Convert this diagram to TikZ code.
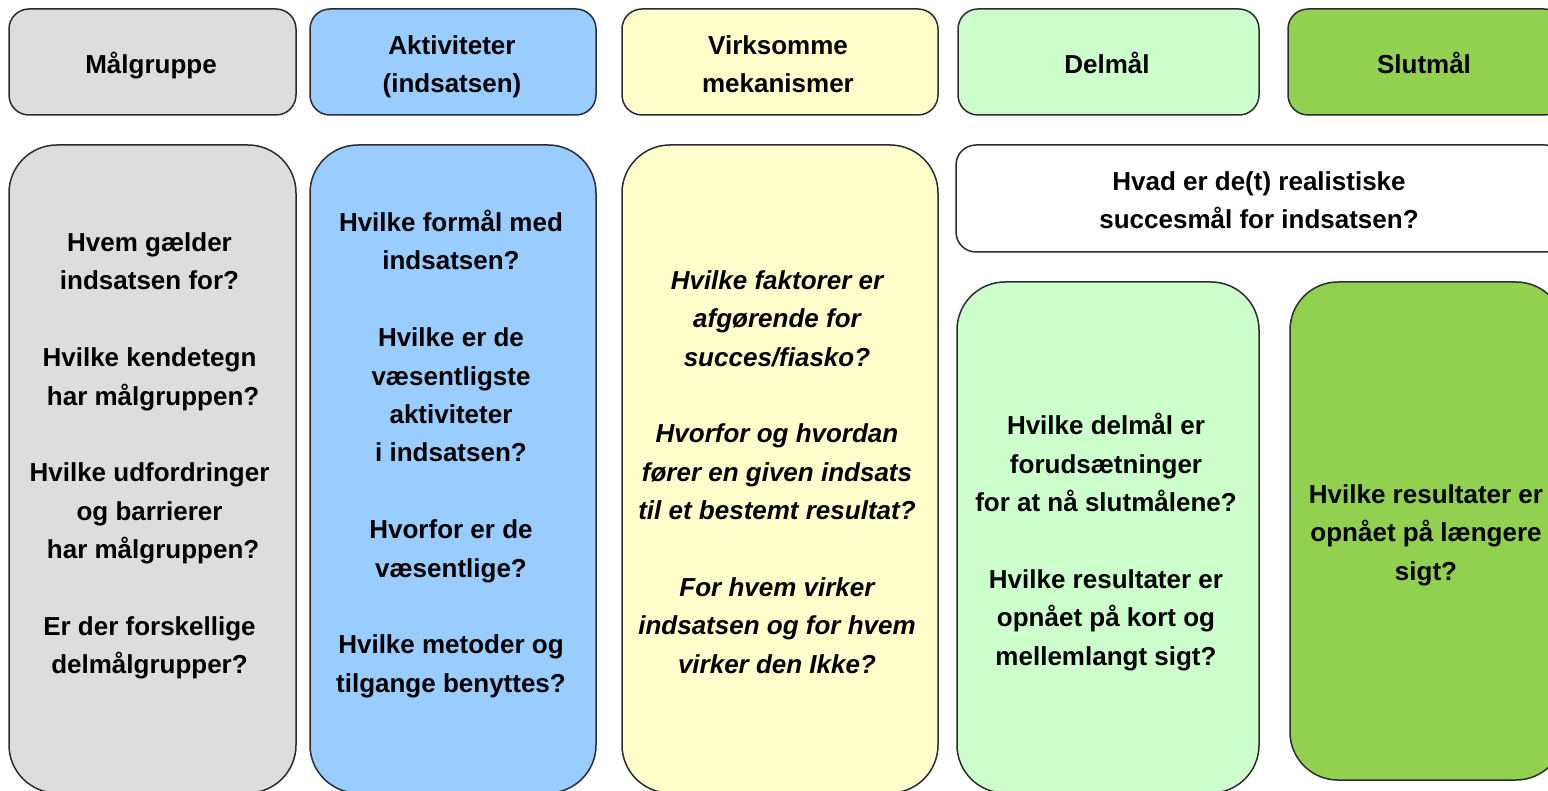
\documentclass[tikz,border=0pt]{standalone}
\usepackage{fontspec}
\setmainfont{Liberation Sans}
\definecolor{cgray}{HTML}{DDDDDD}
\definecolor{cblue}{HTML}{99CCFF}
\definecolor{cyellow}{HTML}{FFFFCC}
\definecolor{clgreen}{HTML}{CCFFCC}
\definecolor{cgreen}{HTML}{92D050}
\definecolor{cedge}{HTML}{2B2B33}
\begin{document}
\begin{tikzpicture}[x=1pt,y=-1pt,
  headbox/.style={draw=cedge,line width=1.5pt,rounded corners=20pt},
  bodybox/.style={draw=cedge,line width=1.5pt,rounded corners=48pt},
  txt/.style={font=\fontsize{26}{38.4}\selectfont\bfseries,align=center,inner sep=0pt},
  itxt/.style={txt,font=\fontsize{26}{38.4}\selectfont\bfseries\itshape}]
\useasboundingbox (0,0) rectangle (1548,791);
\clip (0,0) rectangle (1548,791);
% header row
\draw[headbox,fill=cgray]   (9,9) rectangle (296,115);
\draw[headbox,fill=cblue]   (310,9) rectangle (596,115);
\draw[headbox,fill=cyellow] (622,9) rectangle (938,115);
\draw[headbox,fill=clgreen] (958,9) rectangle (1259,115);
\draw[headbox,fill=cgreen]  (1288,9) rectangle (1564,115);
\node[txt] (h1) at (151,66) {Målgruppe};
\node[txt] (h2) at (452,67) {Aktiviteter\\(indsatsen)};
\node[txt] (h3) at (778,64) {Virksomme\\mekanismer};
\node[txt] (h4) at (1107,63) {Delmål};
\node[txt] (h5) at (1424,63) {Slutmål};
% body boxes
\draw[bodybox,fill=cgray]   (9,145) rectangle (296,793);
\draw[bodybox,fill=cblue]   (310,145) rectangle (596,793);
\draw[bodybox,fill=cyellow] (622,145) rectangle (938,793);
\draw[headbox,fill=white]   (956,145) rectangle (1565,252);
\draw[bodybox,fill=clgreen] (957,282) rectangle (1259,793);
\draw[bodybox,fill=cgreen]  (1290,282) rectangle (1564,780);
% body texts
\node[txt] (b1) at (149.5,456) {Hvem gælder\\indsatsen for?\\[38.4pt]Hvilke kendetegn\\\ har målgruppen?\\[38.4pt]Hvilke udfordringer\\og barrierer\\\ har målgruppen?\\[38.4pt]Er der forskellige\\delmålgrupper?};
\node[txt] (b2) at (451,454) {Hvilke formål med\\indsatsen?\\[38.4pt]Hvilke er de\\væsentligste\\aktiviteter\\i indsatsen?\\[38.4pt]Hvorfor er de\\væsentlige?\\[38.4pt]Hvilke metoder og\\tilgange benyttes?};
\node[itxt] (b3) at (777,472) {Hvilke faktorer er\\afgørende for\\succes/fiasko?\\[38.4pt]Hvorfor og hvordan\\fører en given indsats\\til et bestemt resultat?\\[38.4pt]For hvem virker\\indsatsen og for hvem\\virker den Ikke?};
\node[txt] (q) at (1259,200) {Hvad er de(t) realistiske\\succesmål for indsatsen?};
\node[txt] (b4) at (1106,542) {Hvilke delmål er\\forudsætninger\\for at nå slutmålene?\\[38.4pt]Hvilke resultater er\\opnået på kort og\\mellemlangt sigt?};
\node[txt] (b5) at (1426,535) {Hvilke resultater er\\opnået på længere\\sigt?};
\end{tikzpicture}
\end{document}
